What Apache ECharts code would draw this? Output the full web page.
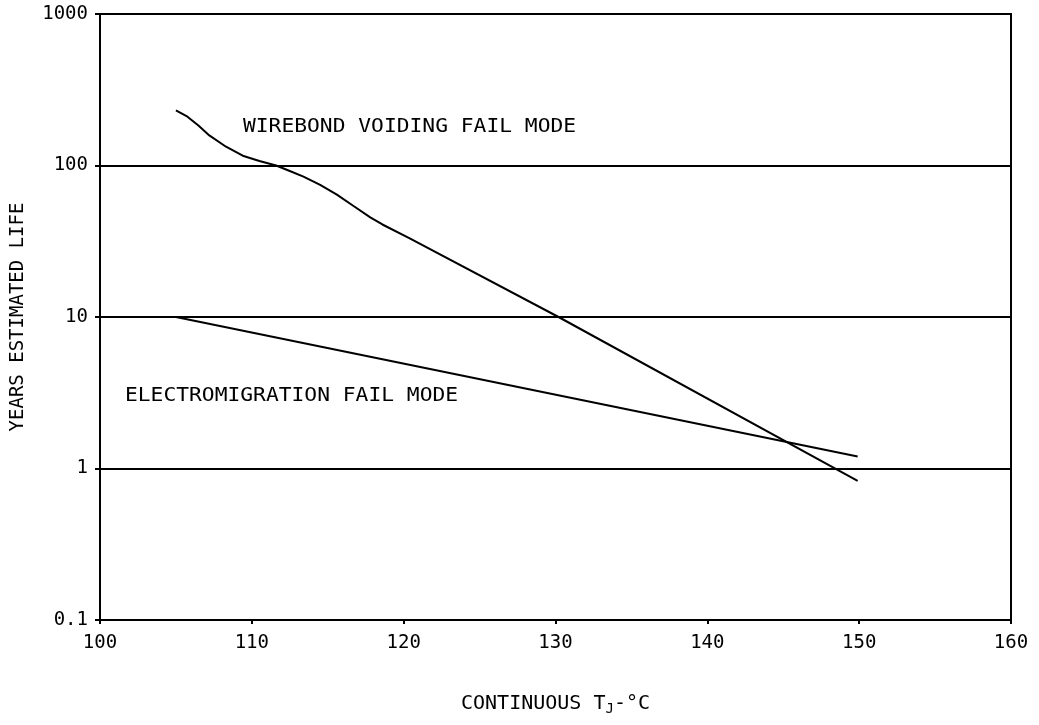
<!DOCTYPE html>
<html lang="en">
  <head>
    <meta charset="UTF-8" />
    <title>estimated life</title>
    <script src="https://cdn.jsdelivr.net/npm/echarts@6/dist/echarts.min.js"></script>
    <style>
      body {
        margin: 0;
        padding: 0;
        background: #fff;
      }

      #main {
        width: 1039px;
        height: 725px;
      }
    </style>
  </head>

  <body>
    <div id="main"></div>
    <script>
      // temperature (°C) vs years
      const wirebondTemp = [105, 105.7, 106.5, 107.2, 108.3, 109.4, 110.5, 111.6, 112.5, 113.4, 114.5, 115.6, 116.7, 117.8, 118.6, 120.4, 130.2, 149.9];
      const wirebondYears = [231, 212, 183, 158, 133, 116, 107, 100, 92, 84.5, 74.5, 64.3, 54, 45.5, 40.8, 33, 10, 0.83];
      const electroTemp = [105, 149.9];
      const electroYears = [10, 1.2];
      const xTicks = [100, 110, 120, 130, 140, 150, 160];
      const yTicks = [0.1, 1, 10, 100, 1000];

      const font = "DejaVu Sans Mono";
      const chartDom = document.getElementById("main");
      const myChart = echarts.init(chartDom);

      const toPairs = (xs, ys) => xs.map((x, i) => [x, ys[i]]);

      const option = {
        animation: false,
        backgroundColor: "#fff",
        grid: {
          left: 100,
          right: 28,
          top: 14,
          bottom: 105,
          containLabel: false,
          outerBoundsMode: "none",
          show: true,
          borderColor: "#000",
          borderWidth: 2,
        },
        xAxis: {
          type: "value",
          min: xTicks[0],
          max: xTicks[xTicks.length - 1],
          interval: 10,
          name: "CONTINUOUS T{sub|J}-°C",
          nameLocation: "middle",
          nameGap: 72,
          nameTextStyle: {
            color: "#000",
            fontFamily: font,
            fontSize: 20,
            rich: {
              sub: {
                fontFamily: font,
                fontSize: 14,
                color: "#000",
                verticalAlign: "bottom",
                padding: [10, 0, 0, 0],
              },
            },
          },
          axisLine: { lineStyle: { color: "#000", width: 2 } },
          axisTick: { show: true, length: 4, lineStyle: { color: "#000", width: 2 } },
          axisLabel: {
            color: "#000",
            fontFamily: font,
            fontSize: 19,
            margin: 14,
          },
          splitLine: { show: false },
        },
        yAxis: {
          type: "log",
          logBase: 10,
          min: yTicks[0],
          max: yTicks[yTicks.length - 1],
          name: "YEARS ESTIMATED LIFE",
          nameLocation: "middle",
          nameGap: 72,
          nameTextStyle: {
            color: "#000",
            fontFamily: font,
            fontSize: 19,
          },
          axisLine: { show: true, lineStyle: { color: "#000", width: 2 } },
          axisTick: { show: true, length: 5, lineStyle: { color: "#000", width: 2 } },
          axisLabel: {
            color: "#000",
            fontFamily: font,
            fontSize: 19,
            margin: 12,
            formatter: (v) => (v < 1 ? "0.1" : String(Math.round(v))),
          },
          splitLine: { show: true, lineStyle: { color: "#000", width: 2 } },
        },
        series: [
          {
            name: "wirebond",
            type: "line",
            showSymbol: false,
            lineStyle: { color: "#000", width: 2 },
            data: toPairs(wirebondTemp, wirebondYears),
          },
          {
            name: "electromigration",
            type: "line",
            showSymbol: false,
            lineStyle: { color: "#000", width: 2 },
            data: toPairs(electroTemp, electroYears),
          },
        ],
        graphic: [
          {
            type: "text",
            left: 243,
            top: 118,
            scaleX: 1.12,
            style: {
              text: "WIREBOND VOIDING FAIL MODE",
              fill: "#000",
              font: "19px " + font,
            },
          },
          {
            type: "text",
            left: 125,
            top: 387,
            scaleX: 1.12,
            style: {
              text: "ELECTROMIGRATION FAIL MODE",
              fill: "#000",
              font: "19px " + font,
            },
          },
        ],
      };

      myChart.setOption(option);
    </script>
  </body>
</html>
